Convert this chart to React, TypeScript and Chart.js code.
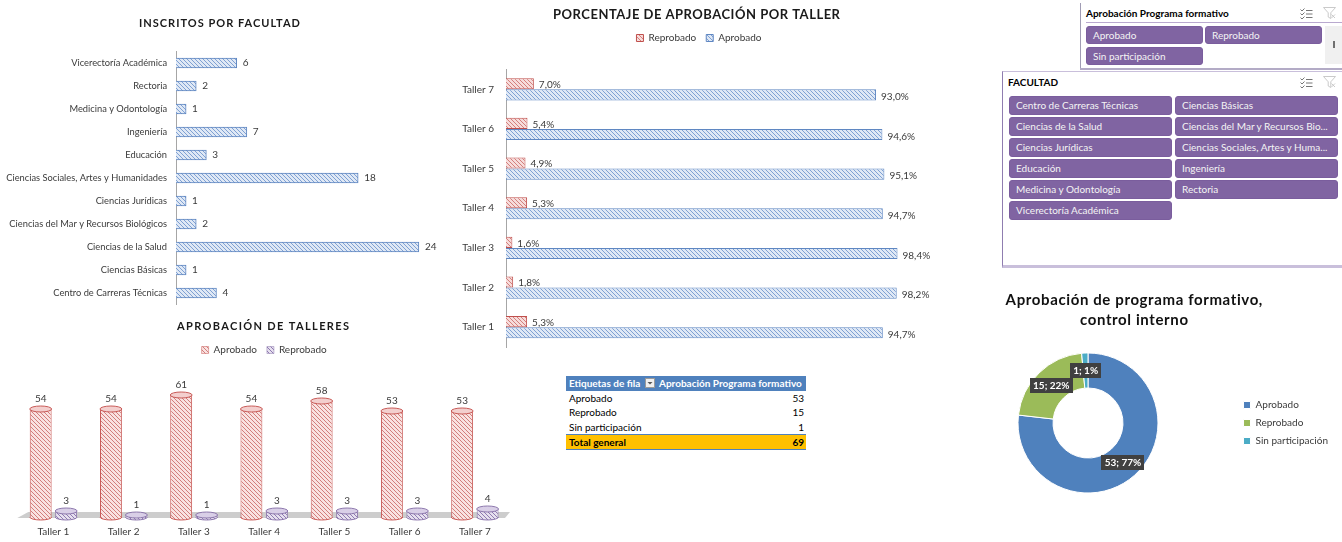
import React, { useEffect, useRef } from 'react';
import { Chart, registerables } from 'chart.js';

Chart.register(...registerables);

const FONT = 'Lato, "Open Sans", "DejaVu Sans", sans-serif';
const TXT = '#3a3a3a';

// ---------- data ----------
const facultades = [
  'Vicerectoría Académica',
  'Rectoria',
  'Medicina y Odontología',
  'Ingeniería',
  'Educación',
  'Ciencias Sociales, Artes y Humanidades',
  'Ciencias Jurídicas',
  'Ciencias del Mar y Recursos Biológicos',
  'Ciencias de la Salud',
  'Ciencias Básicas',
  'Centro de Carreras Técnicas',
];
const inscritos = [6, 2, 1, 7, 3, 18, 1, 2, 24, 1, 4];

const talleresPct = ['Taller 7', 'Taller 6', 'Taller 5', 'Taller 4', 'Taller 3', 'Taller 2', 'Taller 1'];
const pctReprobado = [7.0, 5.4, 4.9, 5.3, 1.6, 1.8, 5.3];
const pctAprobado = [93.0, 94.6, 95.1, 94.7, 98.4, 98.2, 94.7];

const talleres = ['Taller 1', 'Taller 2', 'Taller 3', 'Taller 4', 'Taller 5', 'Taller 6', 'Taller 7'];
const aprobadosTaller = [54, 54, 61, 54, 58, 53, 53];
const reprobadosTaller = [3, 1, 1, 3, 3, 3, 4];

const estados = ['Aprobado', 'Reprobado', 'Sin participación'];
const totalesEstado = [53, 15, 1];

const slicerEstados = ['Aprobado', 'Reprobado', 'Sin participación'];
const slicerFacultades = [
  'Centro de Carreras Técnicas',
  'Ciencias Básicas',
  'Ciencias de la Salud',
  'Ciencias del Mar y Recursos Bio...',
  'Ciencias Jurídicas',
  'Ciencias Sociales, Artes y Huma...',
  'Educación',
  'Ingeniería',
  'Medicina y Odontología',
  'Rectoria',
  'Vicerectoría Académica',
];

// ---------- helpers ----------
function hatch(bg: string, fg: string, size = 4): any {
  const c = document.createElement('canvas');
  c.width = size;
  c.height = size;
  const g = c.getContext('2d') as CanvasRenderingContext2D;
  g.fillStyle = bg;
  g.fillRect(0, 0, size, size);
  g.strokeStyle = fg;
  g.lineWidth = 1;
  g.beginPath();
  g.moveTo(-1, -1);
  g.lineTo(size + 1, size + 1);
  g.moveTo(-1, size - 1);
  g.lineTo(1, size + 1);
  g.moveTo(size - 1, -1);
  g.lineTo(size + 1, 1);
  g.stroke();
  return g.createPattern(c, 'repeat') || bg;
}

type TitleLine = { text: string; x: number; y: number; font: string; width?: number; color?: string };

function makeTitle(lines: TitleLine[]) {
  return {
    id: 'spacedTitle',
    afterDraw(chart: any) {
      const ctx = chart.ctx as any;
      lines.forEach((l) => {
        ctx.save();
        ctx.font = l.font;
        ctx.fillStyle = l.color || '#1a1a1a';
        ctx.textAlign = 'center';
        ctx.textBaseline = 'middle';
        let sp = 0;
        if (l.width && 'letterSpacing' in ctx) {
          ctx.letterSpacing = '0px';
          const w0 = ctx.measureText(l.text).width;
          sp = (l.width - w0) / Math.max(1, l.text.length - 1);
          ctx.letterSpacing = sp.toFixed(2) + 'px';
        }
        ctx.fillText(l.text, l.x + sp / 2, l.y);
        ctx.restore();
      });
    },
  };
}

function makeLabels(cfg: {
  mode: 'h' | 'v' | 'arc';
  dx?: number;
  dy?: number[];
  font: string;
  color: string;
  fmt: (v: number, i: number, di: number) => string;
  box?: string;
}) {
  return {
    id: 'valueLabels',
    afterDatasetsDraw(chart: any) {
      const ctx = chart.ctx;
      chart.data.datasets.forEach((ds: any, di: number) => {
        const meta = chart.getDatasetMeta(di);
        meta.data.forEach((el: any, i: number) => {
          const v = ds.data[i];
          const t = cfg.fmt(v, i, di);
          ctx.save();
          ctx.font = cfg.font;
          if (cfg.mode === 'h') {
            ctx.fillStyle = cfg.color;
            ctx.textAlign = 'left';
            ctx.textBaseline = 'middle';
            ctx.fillText(t, el.x + (cfg.dx || 0), el.y + (cfg.dy ? cfg.dy[di] : 0));
          } else if (cfg.mode === 'v') {
            ctx.fillStyle = cfg.color;
            ctx.textAlign = 'center';
            ctx.textBaseline = 'bottom';
            ctx.fillText(t, el.x, el.y - (cfg.dy ? cfg.dy[di] : 0));
          } else {
            const p = el.tooltipPosition(true);
            const w = Math.round(ctx.measureText(t).width + 6);
            const h = 15;
            ctx.fillStyle = cfg.box || '#404040';
            ctx.fillRect(Math.round(p.x - w / 2), Math.round(p.y - h / 2), w, h);
            ctx.fillStyle = cfg.color;
            ctx.textAlign = 'center';
            ctx.textBaseline = 'middle';
            ctx.fillText(t, p.x, p.y + 0.5);
          }
          ctx.restore();
        });
      });
    },
  };
}

function makeCylinders(caps: string[], strokes: string[]) {
  return {
    id: 'cylinders',
    beforeDatasetsDraw(chart: any) {
      const { ctx, chartArea: a } = chart;
      ctx.save();
      ctx.fillStyle = '#cdcdcd';
      ctx.beginPath();
      ctx.moveTo(a.left + 10, a.bottom - 5);
      ctx.lineTo(a.right, a.bottom - 5);
      ctx.lineTo(a.right - 5, a.bottom + 1);
      ctx.lineTo(a.left - 1, a.bottom + 1);
      ctx.closePath();
      ctx.fill();
      chart.data.datasets.forEach((ds: any, di: number) => {
        chart.getDatasetMeta(di).data.forEach((el: any) => {
          ctx.beginPath();
          ctx.ellipse(el.x, el.base, el.width / 2, 3, 0, 0, Math.PI);
          ctx.fillStyle = ds.backgroundColor;
          ctx.fill();
          ctx.strokeStyle = strokes[di];
          ctx.lineWidth = 1;
          ctx.stroke();
        });
      });
      ctx.restore();
    },
    afterDatasetsDraw(chart: any) {
      const { ctx } = chart;
      ctx.save();
      chart.data.datasets.forEach((_ds: any, di: number) => {
        chart.getDatasetMeta(di).data.forEach((el: any) => {
          ctx.beginPath();
          ctx.ellipse(el.x, el.y, el.width / 2, 3, 0, 0, Math.PI * 2);
          ctx.fillStyle = caps[di];
          ctx.fill();
          ctx.strokeStyle = strokes[di];
          ctx.lineWidth = 1;
          ctx.stroke();
        });
      });
      ctx.restore();
    },
  };
}

// keeps the doughnut's plot square where it sits in the reference, with the legend further right
function makeArea(left: number, right: number) {
  return {
    id: 'fixedArea',
    afterLayout(chart: any) {
      const a = chart.chartArea;
      a.left = left;
      a.right = right;
      a.width = right - left;
    },
  };
}

// ---------- HTML pieces ----------
function MultiSelectIcon({ x, y }: { x: number; y: number }) {
  return (
    <svg style={{ position: 'absolute', left: x, top: y }} width={13} height={11} viewBox="0 0 13 11">
      <path d="M0.5 1.5 L2 3 L4.5 0.5 M0.5 5.5 L2 7 L4.5 4.5 M0.5 9.5 L2 11 L4.5 8.5" stroke="#666" fill="none" strokeWidth={0.9} />
      <path d="M6 2.5 H12.5 M6 6 H12.5 M6 9.5 H12.5" stroke="#666" strokeWidth={0.9} />
    </svg>
  );
}

function FilterIcon({ x, y }: { x: number; y: number }) {
  return (
    <svg style={{ position: 'absolute', left: x, top: y }} width={13} height={12} viewBox="0 0 13 12">
      <path d="M0.5 0.5 H12.5 L7.8 5.8 V11.5 L5.2 10 V5.8 Z" fill="none" stroke="#c4c4c4" strokeWidth={0.9} />
      <path d="M8.5 7.5 L12 11 M12 7.5 L8.5 11" stroke="#c4c4c4" strokeWidth={0.9} />
    </svg>
  );
}

function SlicerButton({ text, left, top, width, height }: { text: string; left: number; top: number; width: number; height: number }) {
  return (
    <div
      style={{
        position: 'absolute',
        left,
        top,
        width,
        height,
        boxSizing: 'border-box',
        background: '#8064a2',
        border: '1px solid #7a5d9d',
        borderRadius: 3,
        color: '#f4f4f4',
        font: `10px ${FONT}`,
        lineHeight: `${height - 2}px`,
        paddingLeft: 6,
        whiteSpace: 'nowrap',
        overflow: 'hidden',
      }}
    >
      {text}
    </div>
  );
}

function PivotTable() {
  const total = totalesEstado.reduce((a, b) => a + b, 0);
  const rowH = 14.3;
  const cell: React.CSSProperties = {
    position: 'absolute',
    font: `10px ${FONT}`,
    color: '#000',
    whiteSpace: 'nowrap',
  };
  return (
    <div style={{ position: 'absolute', left: 566, top: 376, width: 240, height: 74 }}>
      <div style={{ position: 'absolute', left: 0, top: 0, width: 240, height: 15, background: '#4f81bd' }} />
      <div style={{ ...cell, left: 3, top: 1, color: '#fff', fontWeight: 700, lineHeight: '13px' }}>Etiquetas de fila</div>
      <div
        style={{
          position: 'absolute',
          left: 79,
          top: 2,
          width: 10,
          height: 10,
          background: '#f0f0f0',
          border: '1px solid #9a9a9a',
          boxSizing: 'border-box',
        }}
      >
        <svg width={8} height={8} style={{ position: 'absolute', left: 0, top: 0 }}>
          <path d="M1.5 3 L6.5 3 L4 5.5 Z" fill="#555" />
        </svg>
      </div>
      <div style={{ ...cell, left: 93, top: 1, color: '#fff', fontWeight: 700, lineHeight: '13px' }}>Aprobación Programa formativo</div>
      {estados.map((e, i) => (
        <React.Fragment key={e}>
          <div style={{ ...cell, left: 3, top: 15 + i * rowH, lineHeight: `${rowH}px` }}>{e}</div>
          <div style={{ ...cell, right: 2, top: 15 + i * rowH, lineHeight: `${rowH}px` }}>{totalesEstado[i]}</div>
        </React.Fragment>
      ))}
      <div
        style={{
          position: 'absolute',
          left: 0,
          top: 15 + 3 * rowH,
          width: 240,
          height: 14,
          background: '#ffc000',
          borderTop: '1px solid #4f81bd',
          borderBottom: '1px solid #4f81bd',
        }}
      />
      <div style={{ ...cell, left: 3, top: 16 + 3 * rowH, fontWeight: 700, lineHeight: '14px' }}>Total general</div>
      <div style={{ ...cell, right: 2, top: 16 + 3 * rowH, fontWeight: 700, lineHeight: '14px' }}>{total}</div>
    </div>
  );
}

function Slicers() {
  return (
    <>
      {/* Slicer 1 */}
      <div style={{ position: 'absolute', left: 1080, top: 3, width: 1, height: 66, background: '#a09cb4' }} />
      <div style={{ position: 'absolute', left: 1080, top: 68, width: 262, height: 1.5, background: '#b3abc6' }} />
      <div style={{ position: 'absolute', left: 1086, top: 7, font: `bold 10px ${FONT}`, lineHeight: '12px', color: '#000', whiteSpace: 'nowrap' }}>
        Aprobación Programa formativo
      </div>
      <div style={{ position: 'absolute', left: 1086, top: 22, width: 256, height: 1, background: '#b9a9cf' }} />
      <MultiSelectIcon x={1300} y={8} />
      <FilterIcon x={1323} y={7} />
      {slicerEstados.map((t, i) => (
        <SlicerButton key={t} text={t} left={1086 + (i % 2) * 119} top={26 + Math.floor(i / 2) * 21} width={117} height={18} />
      ))}
      <div style={{ position: 'absolute', left: 1325, top: 26, width: 17, height: 38, background: '#f0f0f0' }} />
      <div style={{ position: 'absolute', left: 1333, top: 41, width: 1.5, height: 7, background: '#707070' }} />

      {/* Slicer 2 */}
      <div
        style={{
          position: 'absolute',
          left: 1002,
          top: 71,
          width: 345,
          height: 197,
          boxSizing: 'border-box',
          borderLeft: '1px solid #8f7db0',
          borderTop: '1px solid #c9bfdb',
          borderBottom: '3px solid #c9bfdb',
        }}
      />
      <div style={{ position: 'absolute', left: 1008, top: 76, font: `bold 10px ${FONT}`, lineHeight: '12px', color: '#000' }}>FACULTAD</div>
      <MultiSelectIcon x={1300} y={77} />
      <FilterIcon x={1323} y={76} />
      {slicerFacultades.map((t, i) => (
        <SlicerButton key={t} text={t} left={1009 + (i % 2) * 166} top={96 + Math.floor(i / 2) * 21} width={163} height={19} />
      ))}
    </>
  );
}

// ---------- App ----------
export default function App() {
  const aRef = useRef<HTMLCanvasElement>(null);
  const bRef = useRef<HTMLCanvasElement>(null);
  const cRef = useRef<HTMLCanvasElement>(null);
  const dRef = useRef<HTMLCanvasElement>(null);

  useEffect(() => {
    const blue = hatch('#dfe8f5', '#7fa1d3');
    const red = hatch('#f6dcdb', '#d47f7c');
    const redCyl = hatch('#f9e2e1', '#d27e7c');
    const purple = hatch('#e6e0ee', '#8f7ab2');
    const tickFont = { family: FONT, size: 10 };
    const charts: any[] = [];

    // Chart A: Inscritos por facultad
    charts.push(
      new Chart(aRef.current as HTMLCanvasElement, {
        type: 'bar',
        data: {
          labels: facultades,
          datasets: [
            {
              label: 'Inscritos',
              data: inscritos,
              backgroundColor: blue,
              borderColor: '#5f87c2',
              borderWidth: 1,
              barThickness: 10,
            } as any,
          ],
        },
        options: {
          indexAxis: 'y',
          animation: false,
          responsive: false,
          layout: { padding: { left: 0, right: 11, top: 51.5, bottom: 15.5 } },
          scales: {
            x: { display: false, min: 0, max: 25 },
            y: {
              grid: { display: false, drawTicks: false },
              border: { display: true, color: '#a6a6a6', width: 1 },
              ticks: { padding: 9, color: TXT, font: { family: FONT, size: 9.3 }, autoSkip: false },
              afterFit: (s: any) => {
                s.width = 176;
              },
            } as any,
          },
          plugins: { legend: { display: false }, tooltip: { enabled: false } },
        },
        plugins: [
          makeTitle([{ text: 'INSCRITOS POR FACULTAD', x: 219.5, y: 23, font: `bold 11px ${FONT}`, width: 161 }]),
          makeLabels({ mode: 'h', dx: 6, font: `10px ${FONT}`, color: TXT, fmt: (v) => String(v) }),
        ] as any,
      })
    );

    // Chart B: Porcentaje de aprobación por taller
    charts.push(
      new Chart(bRef.current as HTMLCanvasElement, {
        type: 'bar',
        data: {
          labels: talleresPct,
          datasets: [
            { label: 'Reprobado', data: pctReprobado, backgroundColor: red, borderColor: '#c0504d', borderWidth: 1 } as any,
            { label: 'Aprobado', data: pctAprobado, backgroundColor: blue, borderColor: '#5f87c2', borderWidth: 1 } as any,
          ],
        },
        options: {
          indexAxis: 'y',
          animation: false,
          responsive: false,
          datasets: { bar: { categoryPercentage: 0.56, barPercentage: 1 } },
          layout: { padding: { left: 0, right: 2, top: 23, bottom: 18 } },
          scales: {
            x: {
              position: 'top',
              min: 0,
              max: 113.6,
              ticks: { display: false },
              grid: { display: false },
              border: { display: false },
              afterFit: (s: any) => {
                s.height = 16.5;
              },
            } as any,
            y: {
              grid: { display: false, drawTicks: false },
              border: { display: true, color: '#a6a6a6', width: 1 },
              ticks: { padding: 12, color: TXT, font: tickFont },
              afterFit: (s: any) => {
                s.width = 66;
              },
            } as any,
          },
          plugins: {
            legend: {
              display: true,
              position: 'top',
              labels: { boxWidth: 7, boxHeight: 7, padding: 10, color: TXT, font: tickFont },
            },
            tooltip: { enabled: false },
          },
        },
        plugins: [
          makeTitle([{ text: 'PORCENTAJE DE APROBACIÓN POR TALLER', x: 256.5, y: 15, font: `bold 13px ${FONT}`, width: 287 }]),
          makeLabels({
            mode: 'h',
            dx: 5,
            dy: [1, 2],
            font: `10px ${FONT}`,
            color: TXT,
            fmt: (v) => v.toFixed(1).replace('.', ',') + '%',
          }),
        ] as any,
      })
    );

    // Chart C: Aprobación de talleres (cylinders)
    charts.push(
      new Chart(cRef.current as HTMLCanvasElement, {
        type: 'bar',
        data: {
          labels: talleres,
          datasets: [
            {
              label: 'Aprobado',
              data: aprobadosTaller,
              backgroundColor: redCyl,
              borderColor: '#c85a57',
              borderWidth: { left: 1, right: 1, top: 0, bottom: 0 },
              borderSkipped: false,
            } as any,
            {
              label: 'Reprobado',
              data: reprobadosTaller,
              backgroundColor: purple,
              borderColor: '#8d78ad',
              borderWidth: { left: 1, right: 1, top: 0, bottom: 0 },
              borderSkipped: false,
            } as any,
          ],
        },
        options: {
          animation: false,
          responsive: false,
          datasets: { bar: { categoryPercentage: 0.725, barPercentage: 0.86 } },
          layout: { padding: { left: 18.3, right: 18, top: 23, bottom: 0 } },
          scales: {
            x: {
              grid: { display: false, drawTicks: false },
              border: { display: false },
              ticks: { padding: 9, color: TXT, font: tickFont },
              afterFit: (s: any) => {
                s.height = 25;
              },
            } as any,
            y: { display: false, min: 0, max: 76 },
          },
          plugins: {
            legend: {
              display: true,
              position: 'top',
              labels: { boxWidth: 7, boxHeight: 7, padding: 10, color: TXT, font: tickFont },
            },
            tooltip: { enabled: false },
          },
        },
        plugins: [
          makeCylinders(['#f3cfce', '#d9cfe7'], ['#c85a57', '#8d78ad']),
          makeTitle([{ text: 'APROBACIÓN DE TALLERES', x: 263, y: 14, font: `bold 11px ${FONT}`, width: 172 }]),
          makeLabels({ mode: 'v', dy: [5, 5], font: `10px ${FONT}`, color: TXT, fmt: (v) => String(v) }),
        ] as any,
      })
    );

    // Chart D: Donut
    const totalD = totalesEstado.reduce((a, b) => a + b, 0);
    charts.push(
      new Chart(dRef.current as HTMLCanvasElement, {
        type: 'doughnut',
        data: {
          labels: estados,
          datasets: [
            {
              data: totalesEstado,
              backgroundColor: ['#4f81bd', '#9bbb59', '#4bacc6'],
              borderColor: '#ffffff',
              borderWidth: 1,
            },
          ],
        },
        options: {
          animation: false,
          responsive: false,
          cutout: '50%',
          layout: { padding: { left: 0, right: 4, top: 72.5, bottom: 48.5 } },
          plugins: {
            legend: {
              display: true,
              position: 'right',
              labels: { boxWidth: 7, boxHeight: 7, padding: 8, color: TXT, font: tickFont },
            },
            tooltip: { enabled: false },
          },
        },
        plugins: [
          makeArea(27.5, 168.5),
          makeTitle([
            { text: 'Aprobación de programa formativo,', x: 144, y: 20, font: `bold 15px ${FONT}`, width: 257, color: '#111' },
            { text: 'control interno', x: 144, y: 40, font: `bold 15px ${FONT}`, width: 108, color: '#111' },
          ]),
          makeLabels({
            mode: 'arc',
            font: `bold 10px ${FONT}`,
            color: '#ffffff',
            box: '#404040',
            fmt: (v) => `${v}; ${Math.round((v / totalD) * 100)}%`,
          }),
        ] as any,
      })
    );

    return () => {
      charts.forEach((c) => c.destroy());
    };
  }, []);

  const cv: React.CSSProperties = { position: 'absolute', display: 'block' };

  return (
    <div
      style={{
        position: 'fixed',
        left: 0,
        top: 0,
        width: 1342,
        height: 542,
        background: '#ffffff',
        overflow: 'hidden',
        fontFamily: FONT,
      }}
    >
      <canvas ref={aRef} width={440} height={320} style={{ ...cv, left: 0, top: 0, width: 440, height: 320 }} />
      <canvas ref={bRef} width={520} height={365} style={{ ...cv, left: 440, top: 0, width: 520, height: 365 }} />
      <canvas ref={cRef} width={528} height={230} style={{ ...cv, left: 0, top: 312, width: 528, height: 230 }} />
      <canvas ref={dRef} width={352} height={262} style={{ ...cv, left: 990, top: 280, width: 352, height: 262 }} />
      <PivotTable />
      <Slicers />
    </div>
  );
}
